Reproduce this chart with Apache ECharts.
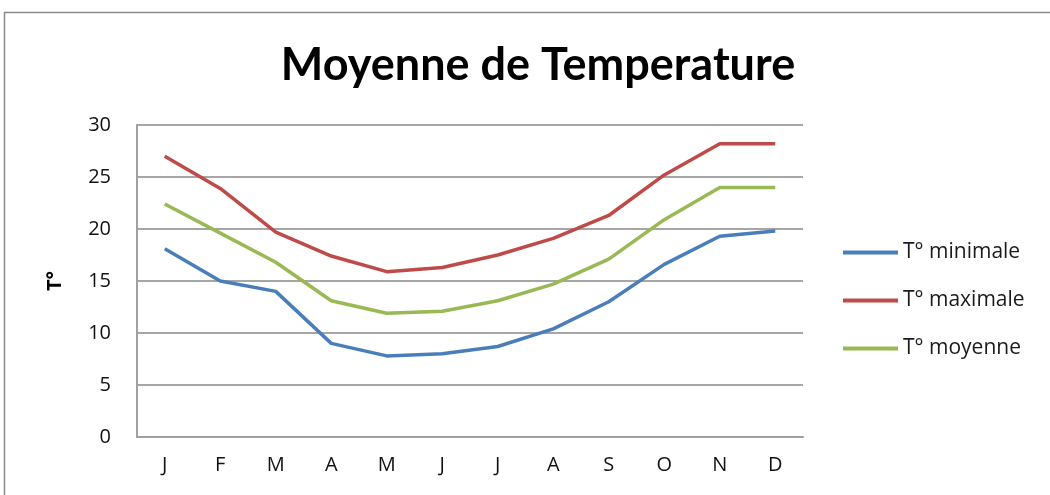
<!DOCTYPE html>
<html>
<head>
<meta charset="utf-8">
<script src="https://cdn.jsdelivr.net/npm/echarts@6/dist/echarts.min.js"></script>
<style>
  html, body { margin: 0; padding: 0; background: #fff; }
  #chart { width: 1050px; height: 495px; }
</style>
</head>
<body>
<div id="chart"></div>
<script>
// mois
const months = ['J', 'F', 'M', 'A', 'M', 'J', 'J', 'A', 'S', 'O', 'N', 'D'];
const yTicks = [0, 5, 10, 15, 20, 25, 30];

const tMin = [18.1, 15.0, 14.0, 9.0, 7.8, 8.0, 8.7, 10.4, 13.0, 16.6, 19.3, 19.8];
const tMax = [27.0, 23.9, 19.7, 17.4, 15.9, 16.3, 17.5, 19.1, 21.3, 25.2, 28.2, 28.2];
const tMoy = [22.4, 19.6, 16.8, 13.1, 11.9, 12.1, 13.1, 14.7, 17.1, 20.9, 24.0, 24.0];

const font = 'Open Sans';

const chart = echarts.init(document.getElementById('chart'));

function line(name, data, color) {
  return {
    name: name,
    type: 'line',
    data: data,
    symbol: 'none',
    lineStyle: { color: color, width: 3.5 },
    itemStyle: { color: color },
    animation: false
  };
}

chart.setOption({
  backgroundColor: '#fff',
  title: {
    text: 'Moyenne de Temperature',
    left: 533,
    textAlign: 'center',
    top: 38,
    textStyle: { fontFamily: 'Lato', fontSize: 45, fontWeight: 'bold', color: '#000' }
  },
  legend: {
    orient: 'vertical',
    left: 838,
    top: 237,
    itemGap: 27,
    itemWidth: 55,
    itemHeight: 4,
    icon: 'rect',
    textStyle: { fontFamily: font, fontSize: 21, color: '#1a1a1a' },
    data: ['T° minimale', 'T° maximale', 'T° moyenne']
  },
  grid: { left: 137, right: 247, top: 125, bottom: 58 },
  xAxis: {
    type: 'category',
    data: months,
    boundaryGap: true,
    axisLine: { lineStyle: { color: '#a0a0a0', width: 2 } },
    axisTick: { show: false },
    axisLabel: { fontFamily: font, fontSize: 20, color: '#111', margin: 18 }
  },
  yAxis: {
    type: 'value',
    min: yTicks[0],
    max: yTicks[yTicks.length - 1],
    interval: 5,
    name: 'T°',
    nameLocation: 'middle',
    nameGap: 72,
    nameTextStyle: { fontFamily: font, fontSize: 20, fontWeight: 'bold', color: '#000' },
    axisLine: { show: true, lineStyle: { color: '#a0a0a0', width: 2 } },
    axisTick: { show: false },
    axisLabel: { fontFamily: font, fontSize: 20, color: '#111', margin: 26 },
    splitLine: { lineStyle: { color: '#a6a6a6', width: 2 } }
  },
  graphic: [{
    type: 'rect',
    shape: { x: 4.5, y: 12.5, width: 1060, height: 500 },
    style: { fill: 'none', stroke: '#8a8a8a', lineWidth: 1.5 },
    silent: true
  }],
  series: [
    line('T° minimale', tMin, '#4a7ebb'),
    line('T° maximale', tMax, '#be4b48'),
    line('T° moyenne', tMoy, '#98b954')
  ]
});
</script>
</body>
</html>
